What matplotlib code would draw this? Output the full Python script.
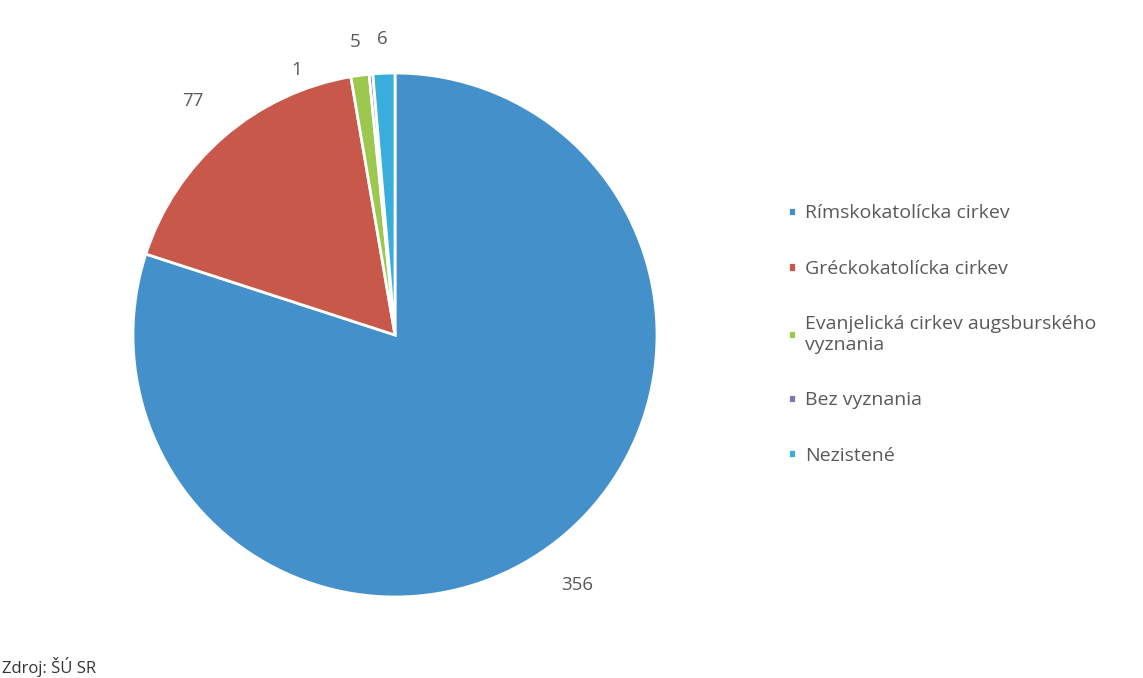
import matplotlib.pyplot as plt
import numpy as np

plt.rcParams['font.family'] = ['Open Sans', 'DejaVu Sans']

categories = ['Rímskokatolícka cirkev', 'Gréckokatolícka cirkev',
              'Evanjelická cirkev augsburského\nvyznania', 'Bez vyznania', 'Nezistené']
values = [356, 77, 5, 1, 6]
colors = ['#4390cb', '#c8594a', '#9dc84f', '#7d79b6', '#39aedb']
text_col = '#595959'

W, H = 1143, 678
fig = plt.figure(figsize=(W / 100, H / 100), dpi=100)

cx, cy, R = 395, 335, 262
ax = fig.add_axes([(cx - R) / W, (H - cy - R) / H, 2 * R / W, 2 * R / H])
wedges, _ = ax.pie(values, colors=colors, startangle=90, counterclock=False,
                   radius=1, wedgeprops=dict(edgecolor='white', linewidth=2))
ax.set_xlim(-1, 1)
ax.set_ylim(-1, 1)
ax.set_aspect('equal')
ax.axis('off')

# data labels around the pie
total = sum(values)
start = 90.0
for i, v in enumerate(values):
    ang = start - v / total * 180
    start -= v / total * 360
    r = 1.13
    if v >= 50:
        r = 1.18
    if v == 1:
        ang += 15  # moved aside, like the original
        r = 1.08
    a = np.deg2rad(ang)
    ax.text(r * np.cos(a), r * np.sin(a), str(v), ha='center', va='center',
            fontsize=13.5, color=text_col, clip_on=False)

leg = fig.legend(wedges, categories, loc='upper left',
                 bbox_to_anchor=(771 / W, 1 - 187 / H), frameon=False,
                 fontsize=14, labelcolor=text_col, handlelength=0.38,
                 handleheight=0.38, handletextpad=0.45, labelspacing=1.92)

fig.text(0.002, 0.002, 'Zdroj: ŠÚ SR', fontsize=12, color='#333333',
         ha='left', va='bottom')

fig.savefig('out.png', dpi=100, facecolor='white')
